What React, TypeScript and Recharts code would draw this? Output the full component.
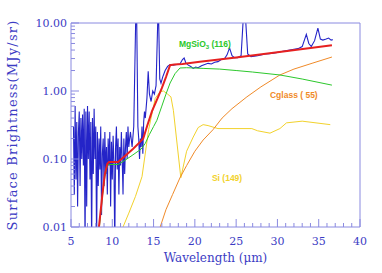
import React from 'react';
import { LineChart, Line, XAxis, YAxis, ReferenceDot } from 'recharts';

// observed spectrum (wavelength um, MJy/sr); 0.005 = below plot, 14 = clipped above
const obsWave = [
    5.3, 5.4, 5.5, 5.6, 5.7, 5.8, 5.9, 6.0, 6.1, 6.2, 6.3, 6.4, 6.5, 6.6, 6.7, 6.8, 6.9, 7.0, 7.1, 7.2, 7.3, 7.4, 7.5, 7.6,
    7.7, 7.8, 7.9, 8.0, 8.1, 8.2, 8.3, 8.4, 8.5, 8.6, 8.7, 8.8, 8.9, 9.0, 9.1, 9.2, 9.3, 9.4, 9.5, 9.6, 9.7, 9.8, 9.9, 10.0,
    10.1, 10.2, 10.3, 10.4, 10.5, 10.6, 10.7, 10.8, 10.9, 11.0, 11.1, 11.2, 11.3, 11.4, 11.5, 11.6, 11.7, 11.8, 11.9, 12.0,
    12.1, 12.2, 12.4, 12.6, 12.85, 12.95, 13.1, 13.2, 13.3, 13.4, 13.5, 13.6, 13.7, 13.8, 13.9, 14.0, 14.2, 14.35, 14.5,
    14.7, 14.9, 15.1, 15.3, 15.5, 15.6, 15.75, 15.9, 16.1, 16.4, 16.7, 17.0, 17.4, 17.8, 18.2, 18.5, 18.7, 18.9, 19.2, 19.5,
    19.8, 20.1, 20.4, 20.8, 21.2, 21.6, 22.0, 22.4, 22.8, 23.2, 23.6, 23.9, 24.2, 24.5, 24.8, 25.2, 25.6, 25.9, 26.1, 26.4,
    26.8, 27.2, 27.6, 28.0, 28.5, 29.0, 29.5, 30.0, 30.5, 31.0, 31.5, 32.0, 32.5, 33.0, 33.5, 33.8, 34.1, 34.5, 34.9, 35.2,
    35.5, 35.9, 36.2, 36.5, 36.7,
];
const obsFlux = [
    0.3, 0.03, 0.6, 0.05, 0.35, 0.02, 0.25, 0.5, 0.04, 0.4, 0.1, 0.45, 0.08, 0.55, 0.005, 0.5, 0.02, 0.6, 0.1, 0.5, 0.05,
    0.35, 0.005, 0.4, 0.06, 0.55, 0.1, 0.3, 0.005, 0.25, 0.04, 0.2, 0.07, 0.3, 0.015, 0.12, 0.2, 0.04, 0.25, 0.06, 0.15,
    0.03, 0.2, 0.08, 0.25, 0.02, 0.18, 0.05, 0.22, 0.09, 0.005, 0.15, 0.3, 0.07, 0.2, 0.03, 0.15, 0.08, 0.25, 0.1, 0.03,
    0.2, 0.06, 0.15, 0.25, 0.1, 0.3, 0.15, 0.2, 0.25, 0.15, 0.3, 14, 14, 0.3, 0.2, 0.1, 0.2, 0.15, 0.3, 0.12, 0.35, 0.5,
    0.4, 0.8, 1.95, 0.9, 0.7, 1.0, 0.9, 1.2, 10, 14, 1.5, 1.3, 1.6, 2.0, 2.3, 2.45, 2.4, 2.45, 2.5, 2.9, 3.05, 2.6, 2.4,
    2.3, 2.15, 2.25, 2.2, 2.35, 2.45, 2.55, 2.5, 2.65, 2.7, 2.9, 3.0, 3.4, 4.3, 3.3, 3.1, 3.1, 3.3, 14, 14, 3.5, 3.2, 3.25,
    3.3, 3.4, 3.5, 3.55, 3.6, 3.7, 3.8, 3.9, 4.0, 4.1, 4.2, 4.5, 6.8, 5.0, 4.5, 5.5, 8.4, 5.8, 5.6, 5.8, 6.0, 5.6, 5.7,
];

// total model
const totalWave = [8.3, 8.8, 9.1, 9.4, 9.6, 10.7, 11.5, 12.5, 13.4, 13.75, 14.2, 14.8, 15.4, 16.0, 16.5, 17.0, 17.5, 18.5, 20.6, 25, 30, 36.6];
const totalFlux = [0.008, 0.03, 0.06, 0.085, 0.09, 0.09, 0.11, 0.14, 0.18, 0.2, 0.3, 0.5, 0.74, 1.1, 1.6, 2.4, 2.45, 2.5, 2.7, 3.1, 3.7, 4.7];

// MgSiO3 component
const mgWave = [8.4, 8.8, 9.1, 9.4, 9.6, 10.7, 11.5, 12.5, 13.5, 14.0, 14.5, 15.0, 15.4, 16.0, 16.5, 17.0, 17.6, 18.2, 19, 21, 23, 25, 27, 30.3, 33, 36.6];
const mgFlux = [0.009, 0.028, 0.055, 0.08, 0.083, 0.083, 0.095, 0.115, 0.14, 0.17, 0.23, 0.3, 0.37, 0.6, 0.9, 1.31, 1.8, 2.18, 2.2, 2.15, 2.1, 2.0, 1.9, 1.72, 1.5, 1.22];

// Cglass component
const cWave = [15.8, 16.5, 17.3, 18.2, 19, 20, 21, 22.2, 23.3, 24.5, 26.3, 28, 30.3, 32, 34.3, 36.6];
const cFlux = [0.01, 0.018, 0.03, 0.053, 0.08, 0.13, 0.19, 0.27, 0.4, 0.55, 0.82, 1.15, 1.72, 2.1, 2.58, 3.16];

// Si component
const siWave = [11.3, 12, 12.8, 13.6, 14.4, 15.2, 15.8, 16.2, 16.7, 17.1, 17.4, 18.3, 19.0, 19.8, 20.4, 21.0, 21.6, 22.8, 26.9, 27.6, 29.1, 30.3, 31.1, 33, 36.4];
const siFlux = [0.01, 0.016, 0.028, 0.055, 0.27, 0.78, 0.98, 1.0, 0.9, 0.82, 0.52, 0.053, 0.13, 0.21, 0.29, 0.32, 0.31, 0.28, 0.28, 0.26, 0.24, 0.28, 0.34, 0.36, 0.32];

const xMajor = [5, 10, 15, 20, 25, 30, 35, 40];
const xTicks = Array.from({ length: 36 }, (_, i) => i + 5);
const yMajor = [0.01, 0.1, 1, 10];
const yTicks = [0.01, 0.1, 1].flatMap((d) => [1, 2, 3, 4, 5, 6, 7, 8, 9].map((m) => +(d * m).toPrecision(2))).concat([10]);

const zip = (w: number[], f: number[]) => w.map((x, i) => ({ x, y: f[i] }));

const AXIS = '#8a8ae0';
const LABEL = '#3c3cc4';
const FONT = 'DejaVu Serif';

const isMajor = (list: number[], v: number) => list.some((m) => Math.abs(m - v) < 1e-9);

function LeftTick(props: any) {
    const { x, y, payload } = props;
    const major = isMajor(yMajor, payload.value);
    return (
        <g>
            <line x1={x} x2={x + (major ? 8 : 4)} y1={y} y2={y} stroke={AXIS} />
            {major && (
                <text x={x - 4} y={y + 4} textAnchor="end" fill={LABEL} fontSize={11} fontFamily={FONT}>
                    {payload.value.toFixed(2)}
                </text>
            )}
        </g>
    );
}

function RightTick(props: any) {
    const { x, y, payload } = props;
    const major = isMajor(yMajor, payload.value);
    return <line x1={x} x2={x - (major ? 8 : 4)} y1={y} y2={y} stroke={AXIS} />;
}

function BottomTick(props: any) {
    const { x, y, payload } = props;
    const major = isMajor(xMajor, payload.value);
    return (
        <g>
            <line x1={x} x2={x} y1={y} y2={y - (major ? 8 : 4)} stroke={AXIS} />
            {major && (
                <text x={x} y={y + 18} textAnchor="middle" fill={LABEL} fontSize={11} fontFamily={FONT}>
                    {payload.value}
                </text>
            )}
        </g>
    );
}

function TopTick(props: any) {
    const { x, y, payload } = props;
    const major = isMajor(xMajor, payload.value);
    return <line x1={x} x2={x} y1={y} y2={y + (major ? 8 : 4)} stroke={AXIS} />;
}

const note = (label: React.ReactNode, color: string) => (p: any) => (
    <text x={p.cx} y={p.cy} fill={color} fontSize={8.5} fontWeight="bold" fontFamily="Liberation Sans">
        {label}
    </text>
);

export default function App() {
    return (
        <div style={{ position: 'absolute', left: 0, top: 0, background: '#fff' }}>
            <LineChart width={382} height={273} margin={{ top: 0, right: 0, bottom: 0, left: 0 }}>
                <XAxis
                    dataKey="x"
                    type="number"
                    domain={[5, 40]}
                    ticks={xTicks}
                    interval={0}
                    allowDataOverflow
                    height={46}
                    stroke={AXIS}
                    tickSize={0}
                    tickMargin={0}
                    tick={<BottomTick />}
                    label={{ value: 'Wavelength (\u03bcm)', position: 'insideBottom', offset: 11, fill: LABEL, fontSize: 12, fontFamily: FONT }}
                />
                <XAxis
                    xAxisId="top"
                    dataKey="x"
                    type="number"
                    orientation="top"
                    domain={[5, 40]}
                    ticks={xTicks}
                    interval={0}
                    height={23}
                    stroke={AXIS}
                    tickSize={0}
                    tickMargin={0}
                    tick={<TopTick />}
                />
                <YAxis
                    dataKey="y"
                    type="number"
                    scale="log"
                    domain={[0.01, 10]}
                    ticks={yTicks}
                    interval={0}
                    allowDataOverflow
                    width={71}
                    stroke={AXIS}
                    tickSize={0}
                    tickMargin={0}
                    tick={<LeftTick />}
                    label={{ value: 'Surface Brightness(MJy/sr)', angle: -90, position: 'insideLeft', offset: 12, fill: LABEL, fontSize: 13, fontFamily: FONT, style: { textAnchor: 'middle', letterSpacing: 1.2 } }}
                />
                <YAxis
                    yAxisId="right"
                    type="number"
                    orientation="right"
                    scale="log"
                    domain={[0.01, 10]}
                    ticks={yTicks}
                    interval={0}
                    width={22}
                    stroke={AXIS}
                    tickSize={0}
                    tickMargin={0}
                    tick={<RightTick />}
                />
                <Line data={zip(obsWave, obsFlux)} dataKey="y" stroke="#2424c8" strokeWidth={1.1} dot={false} isAnimationActive={false} />
                <Line data={zip(siWave, siFlux)} dataKey="y" stroke="#f2d22c" strokeWidth={1} dot={false} isAnimationActive={false} />
                <Line data={zip(cWave, cFlux)} dataKey="y" stroke="#f08a28" strokeWidth={1} dot={false} isAnimationActive={false} />
                <Line data={zip(mgWave, mgFlux)} dataKey="y" stroke="#2cc82c" strokeWidth={1} dot={false} isAnimationActive={false} />
                <Line data={zip(totalWave, totalFlux)} dataKey="y" stroke="#e62020" strokeWidth={2} dot={false} isAnimationActive={false} />
                <ReferenceDot
                    x={18.07}
                    y={4.37}
                    r={0}
                    shape={note(
                        <>
                            MgSiO
                            <tspan fontSize={6} dy={2}>3</tspan>
                            <tspan dy={-2}> (116)</tspan>
                        </>,
                        '#2cc82c'
                    )}
                />
                <ReferenceDot x={29.1} y={0.79} r={0} shape={note('Cglass ( 55)', '#f08a28')} />
                <ReferenceDot x={22.07} y={0.048} r={0} shape={note('Si (149)', '#f2d22c')} />
            </LineChart>
        </div>
    );
}
